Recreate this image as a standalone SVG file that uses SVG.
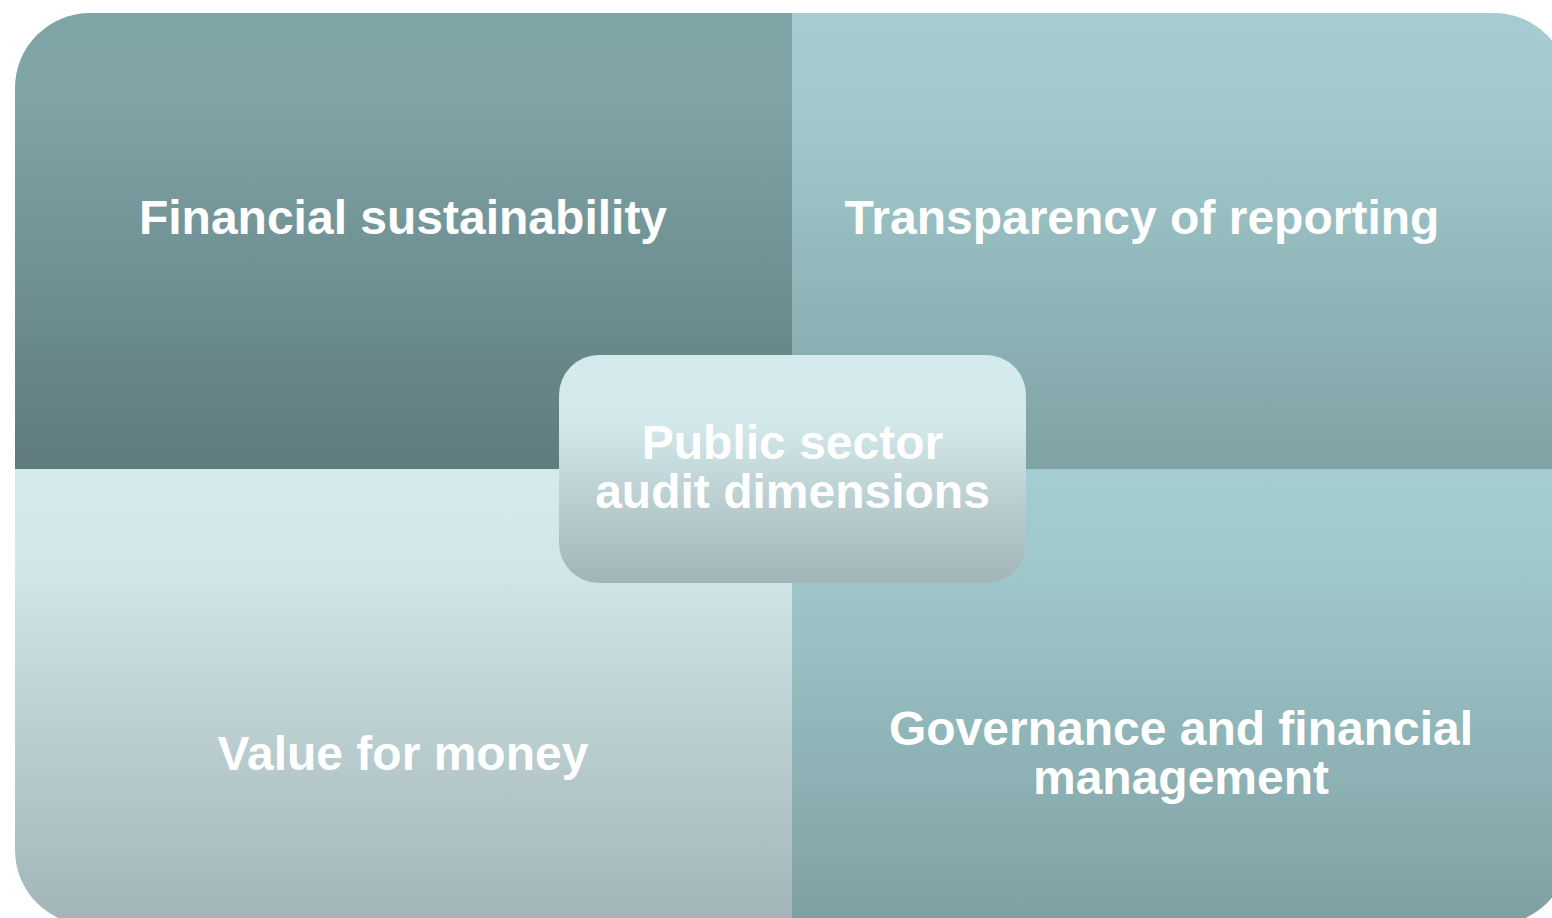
<svg xmlns="http://www.w3.org/2000/svg" width="1552" height="918" viewBox="0 0 1552 918">
<defs>
<linearGradient id="gTL" x1="0" y1="0" x2="0" y2="1"><stop offset="0" stop-color="#80A5A7"/><stop offset="0.2" stop-color="#7FA3A5"/><stop offset="1" stop-color="#5F7B7E"/></linearGradient>
<linearGradient id="gTR" x1="0" y1="0" x2="0" y2="1"><stop offset="0" stop-color="#A5CDD1"/><stop offset="0.2" stop-color="#A2CACE"/><stop offset="1" stop-color="#7FA2A4"/></linearGradient>
<linearGradient id="gBL" x1="0" y1="0" x2="0" y2="1"><stop offset="0" stop-color="#D4EAEC"/><stop offset="0.2" stop-color="#D1E7E9"/><stop offset="1" stop-color="#A2B4B7"/></linearGradient>
<linearGradient id="gBR" x1="0" y1="0" x2="0" y2="1"><stop offset="0" stop-color="#A3CDD1"/><stop offset="0.2" stop-color="#A0C9CD"/><stop offset="1" stop-color="#7FA0A2"/></linearGradient>
<linearGradient id="gC" x1="0" y1="0" x2="0" y2="1"><stop offset="0" stop-color="#D4EAEC"/><stop offset="0.3" stop-color="#D2E8EA"/><stop offset="1" stop-color="#A2B4B7"/></linearGradient>
</defs>
<style>
text{font-family:"Liberation Sans",Arial,sans-serif;font-weight:bold;font-size:48px;fill:#FFFFFF;text-anchor:middle}
</style>
<g id="financial-sustainability">
<path d="M15,469 V88 A75,75 0 0 1 90,13 H792 V469 Z" fill="url(#gTL)"/>
<text x="403" y="234">Financial sustainability</text>
</g>
<g id="transparency-of-reporting">
<path d="M792,13 H1494 A75,75 0 0 1 1569,88 V469 H792 Z" fill="url(#gTR)"/>
<text x="1142" y="234">Transparency of reporting</text>
</g>
<g id="value-for-money">
<path d="M15,469 H792 V925 H90 A75,75 0 0 1 15,850 Z" fill="url(#gBL)"/>
<text x="403" y="770">Value for money</text>
</g>
<g id="governance">
<path d="M792,469 H1569 V850 A75,75 0 0 1 1494,925 H792 Z" fill="url(#gBR)"/>
<text x="1181" y="745">Governance and financial</text>
<text x="1181" y="794">management</text>
</g>
<g id="connectors"></g>
<g id="center">
<rect x="559" y="355" width="467" height="228" rx="40" ry="40" fill="url(#gC)"/>
<text x="792.5" y="459">Public sector</text>
<text x="792.5" y="508">audit dimensions</text>
</g>
</svg>
